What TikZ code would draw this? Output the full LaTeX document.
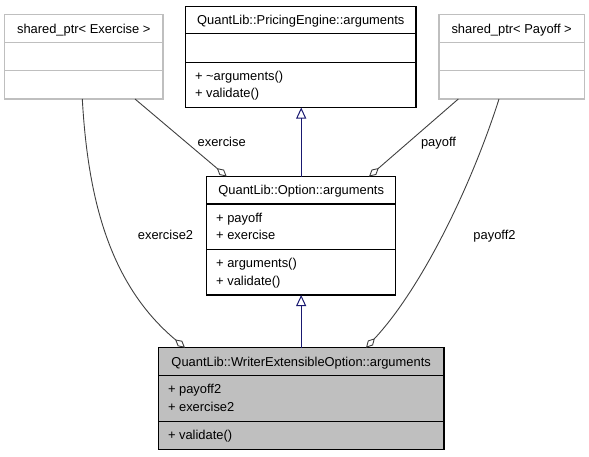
\documentclass[tikz,border=0pt]{standalone}
\usepackage{fontspec}
\setmainfont{Liberation Sans}
\usetikzlibrary{arrows.meta,calc}
\definecolor{edgegray}{HTML}{404040}
\definecolor{boxgray}{HTML}{BFBFBF}
\definecolor{inhblue}{HTML}{191970}
\begin{document}
\begin{tikzpicture}[x=1pt,y=-1pt,
  every node/.style={font=\fontsize{12.9}{15}\selectfont, inner sep=0pt, outer sep=0pt},
  classbox/.style={draw=black, line width=1.1pt, anchor=north west},
  graybox/.style={draw=boxgray, line width=1.1pt, anchor=north west},
  blackdiv/.style={draw=black, line width=1.1pt},
  graydiv/.style={draw=boxgray, line width=1.1pt},
  ttl/.style={anchor=base},
  mem/.style={anchor=base west},
  lbl/.style={anchor=base},
  agg/.style={draw=edgegray, line width=0.9pt, -{Diamond[open, length=13pt, width=7pt]}},
  inh/.style={draw=inhblue, line width=1pt, -{Triangle[open, length=11pt, width=10pt]}}
]
\useasboundingbox (0,0) rectangle (589,456);

% shared_ptr< Exercise >
\node[graybox, minimum width=158.5pt, minimum height=84.3pt] (ex) at (4.5,14.7) {};
\draw[graydiv] (4.5,42.7) -- (163,42.7);
\draw[graydiv] (4.5,70.7) -- (163,70.7);
\node[ttl] (ex-t) at (83.75,33.3) {shared\_ptr< Exercise >};

% QuantLib::PricingEngine::arguments
\node[classbox, minimum width=230.5pt, minimum height=100.8pt] (pe) at (185.5,6.7) {};
\draw[blackdiv] (185.5,33.7) -- (416,33.7);
\draw[blackdiv] (185.5,62.3) -- (416,62.3);
\node[ttl] (pe-t) at (300.75,24.8) {QuantLib::PricingEngine::arguments};
\node[mem] (pe-m1) at (195,80.4) {+ \textasciitilde arguments()};
\node[mem] (pe-m2) at (195,97.9) {+ validate()};

% shared_ptr< Payoff >
\node[graybox, minimum width=145.3pt, minimum height=84.3pt] (po) at (439,14.7) {};
\draw[graydiv] (439,42.7) -- (584.3,42.7);
\draw[graydiv] (439,70.7) -- (584.3,70.7);
\node[ttl] (po-t) at (511.65,33.3) {shared\_ptr< Payoff >};

% QuantLib::Option::arguments
\node[classbox, minimum width=189pt, minimum height=118.5pt] (opt) at (206.7,176.5) {};
\draw[blackdiv] (206.7,204) -- (395.7,204);
\draw[blackdiv] (206.7,249.3) -- (395.7,249.3);
\node[ttl] (opt-t) at (301.2,194.8) {QuantLib::Option::arguments};
\node[mem] (opt-m1) at (216.2,222.3) {+ payoff};
\node[mem] (opt-m2) at (216.2,239.6) {+ exercise};
\node[mem] (opt-m3) at (216.2,267.3) {+ arguments()};
\node[mem] (opt-m4) at (216.2,285.3) {+ validate()};

% QuantLib::WriterExtensibleOption::arguments
\node[classbox, fill=boxgray, minimum width=285.7pt, minimum height=102pt] (wr) at (158.3,347.7) {};
\draw[blackdiv] (158.3,375.7) -- (444,375.7);
\draw[blackdiv] (158.3,421.7) -- (444,421.7);
\node[ttl] (wr-t) at (301.15,366.3) {QuantLib::WriterExtensibleOption::arguments};
\node[mem] (wr-m1) at (168,393.6) {+ payoff2};
\node[mem] (wr-m2) at (168,411.3) {+ exercise2};
\node[mem] (wr-m3) at (168,439.6) {+ validate()};

% connector end points
\coordinate (exA) at ($(ex.south west)+(130.5,0)$);
\coordinate (exB) at ($(ex.south west)+(77.8,0)$);
\coordinate (poA) at ($(po.south west)+(19.3,0)$);
\coordinate (poB) at ($(po.south west)+(60,0)$);
\coordinate (optL) at ($(opt.north west)+(20,0)$);
\coordinate (optR) at ($(opt.north west)+(162.3,0)$);
\coordinate (wrL) at ($(wr.north west)+(26.7,0)$);
\coordinate (wrR) at ($(wr.north west)+(207.7,0)$);

% inheritance
\draw[inh] (opt.north) -- (opt.north |- pe.south);
\draw[inh] (wr.north) -- (wr.north |- opt.south);

% aggregation
\draw[agg] (exA) -- (optL);
\draw[agg] (poA) -- (optR);
\draw[agg] (exB) .. controls (88,200) and (110,285) .. (wrL);
\draw[agg] (poB) .. controls (470,190) and (420,290) .. (wrR);

\node[lbl] (l-ex) at (221.7,146.3) {exercise};
\node[lbl] (l-po) at (438.5,146.3) {payoff};
\node[lbl] (l-ex2) at (165.5,239.6) {exercise2};
\node[lbl] (l-po2) at (494.5,239.6) {payoff2};
\end{tikzpicture}
\end{document}
